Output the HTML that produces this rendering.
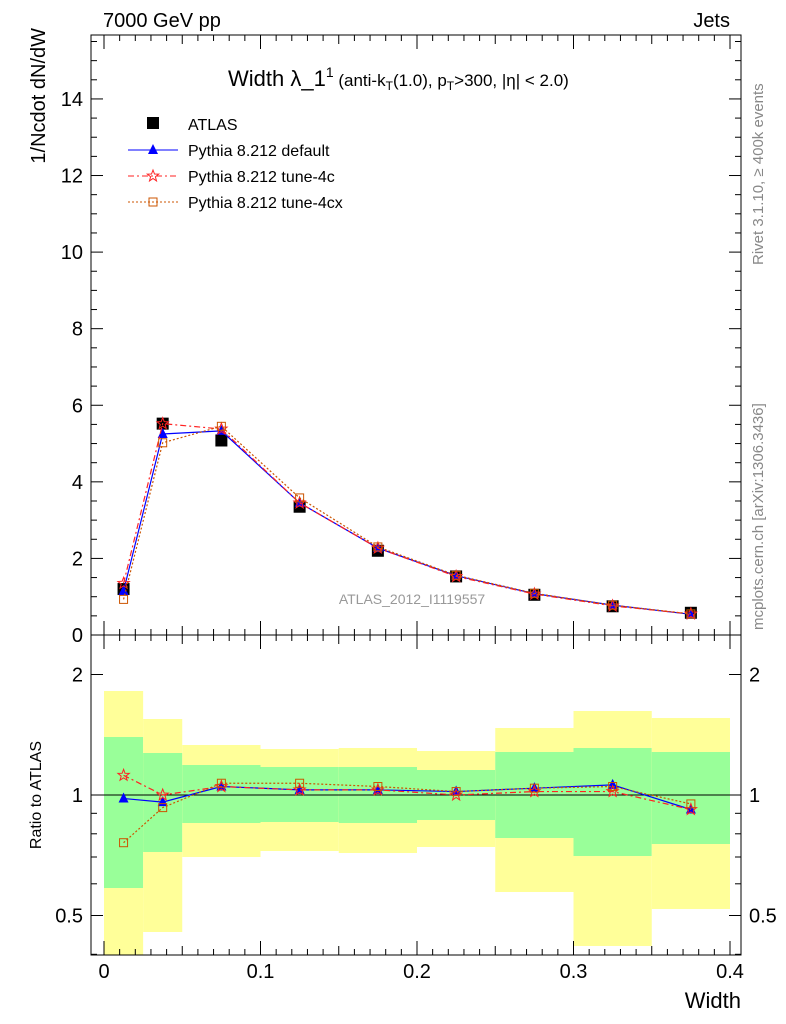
<!DOCTYPE html>
<html><head><meta charset="utf-8"><style>
body{margin:0;background:#fff;}
svg{display:block;font-family:"Liberation Sans",sans-serif;}
</style></head><body>
<svg id="s" width="786" height="1024" xmlns="http://www.w3.org/2000/svg"></svg>
<script>
const S=document.getElementById('s');let h='';
const X=w=>104+1565*w, Y=v=>635-38.29*v, R=r=>795-120.5*Math.log2(r);
const L=91,Rt=741;
const bins=[0,0.025,0.05,0.1,0.15,0.2,0.25,0.3,0.35,0.4];
const band=[[737,888,691,955],[753,852,719,932],[765,823,745,857],[767,822,749,851],[767,823,748,853],[770,820,751,847],[752,838,728,892],[748,856,711,946],[752,844,718,909]];
for(let i=0;i<9;i++){const a=X(bins[i]),b=X(bins[i+1]);const d=band[i];
h+=`<rect x="${a}" y="${d[2]}" width="${b-a}" height="${d[3]-d[2]}" fill="#ffff99"/>`;
h+=`<rect x="${a}" y="${d[0]}" width="${b-a}" height="${d[1]-d[0]}" fill="#99ff99"/>`;}
h+=`<line x1="${L}" x2="${Rt}" y1="795" y2="795" stroke="#000"/>`;
h+=`<rect x="${L}" y="35" width="${Rt-L}" height="600" fill="none" stroke="#000"/>`;
h+=`<rect x="${L}" y="635" width="${Rt-L}" height="320" fill="none" stroke="#000"/>`;
for(let v=0;v<=15.6;v+=0.5){const y=Y(v);if(y<35)break;const big=Math.abs(v%2)<1e-9;const l=big?12:6;
h+=`<line x1="${L}" x2="${L+l}" y1="${y}" y2="${y}" stroke="#000"/><line x1="${Rt}" x2="${Rt-l}" y1="${y}" y2="${y}" stroke="#000"/>`;
if(big)h+=`<text x="${L-8}" y="${y+7}" font-size="20" text-anchor="end">${v}</text>`;}
for(let k=0;k<=41;k++){const w=k*0.01;const x=X(w);if(x>Rt)break;const big=k%10==0;const mid=k%5==0;const l=big?14:(mid?9:6);
for(const yb of [635,955]){h+=`<line x1="${x}" x2="${x}" y1="${yb}" y2="${yb-l}" stroke="#000"/>`;}
h+=`<line x1="${x}" x2="${x}" y1="35" y2="${35+l}" stroke="#000"/><line x1="${x}" x2="${x}" y1="635" y2="${635+l}" stroke="#000"/>`;
if(big)h+=`<text x="${x}" y="978" font-size="20" text-anchor="middle">${k==0?'0':(k/100).toFixed(1)}</text>`;}
for(const r of [0.4,0.5,0.6,0.7,0.8,0.9,1,2]){const y=R(r);const big=(r==0.5||r==1||r==2);const l=big?12:6;
h+=`<line x1="${L}" x2="${L+l}" y1="${y}" y2="${y}" stroke="#000"/><line x1="${Rt}" x2="${Rt-l}" y1="${y}" y2="${y}" stroke="#000"/>`;
if(big){h+=`<text x="${L-8}" y="${y+7}" font-size="20" text-anchor="end">${r}</text><text x="${Rt+8}" y="${y+7}" font-size="20">${r}</text>`;}}
const xs=[0.0125,0.0375,0.075,0.125,0.175,0.225,0.275,0.325,0.375];
const atl=[1.2,5.52,5.08,3.35,2.2,1.53,1.05,0.75,0.58];
const def=[1.15,5.25,5.33,3.45,2.27,1.55,1.08,0.78,0.54];
const c4=[1.35,5.52,5.38,3.45,2.27,1.53,1.07,0.76,0.55];
const cx=[0.93,5.02,5.45,3.58,2.3,1.56,1.09,0.78,0.55];
const rd=[0.98,0.96,1.05,1.03,1.03,1.02,1.04,1.06,0.92];
const r4=[1.12,1.0,1.05,1.03,1.03,1.0,1.02,1.02,0.92];
const rx=[0.76,0.93,1.07,1.07,1.05,1.02,1.04,1.05,0.95];
function star(x,y,c){let p=[];for(let i=0;i<10;i++){const a=-Math.PI/2+i*Math.PI/5,r=i%2?2.5:6;p.push((x+r*Math.cos(a)).toFixed(1)+','+(y+r*Math.sin(a)).toFixed(1));}return `<polygon points="${p.join(' ')}" fill="none" stroke="${c}"/>`;}
function tri(x,y){return `<polygon points="${x},${y-6} ${x-5},${y+4} ${x+5},${y+4}" fill="#0000ff"/>`;}
function sq(x,y){return `<rect x="${x-4}" y="${y-4}" width="8" height="8" fill="none" stroke="#cc5500"/>`;}
function series(vals,f,col,dash,mk){const pts=xs.map((w,i)=>[X(w),f(vals[i])]);
h+=`<polyline points="${pts.map(p=>p.join(',')).join(' ')}" fill="none" stroke="${col}" stroke-width="1.2" ${dash?`stroke-dasharray="${dash}"`:''}/>`;
pts.forEach(p=>h+=mk(p[0],p[1]));}
xs.forEach((w,i)=>h+=`<rect x="${X(w)-6}" y="${Y(atl[i])-6}" width="12" height="12" fill="#000"/>`);
series(def,Y,'#0000ff','',tri);
series(c4,Y,'#ff2222','6,3,2,3',(x,y)=>star(x,y,'#ff2222'));
series(cx,Y,'#cc5500','2,2',sq);
series(rd,R,'#0000ff','',tri);
series(r4,R,'#ff2222','6,3,2,3',(x,y)=>star(x,y,'#ff2222'));
series(rx,R,'#cc5500','2,2',sq);
h+=`<rect x="147" y="117" width="12" height="12" fill="#000"/><text x="188" y="130" font-size="16">ATLAS</text>`;
h+=`<line x1="128" x2="178" y1="150" y2="150" stroke="#0000ff"/>${tri(153,150)}<text x="188" y="156" font-size="16">Pythia 8.212 default</text>`;
h+=`<line x1="128" x2="178" y1="176" y2="176" stroke="#ff2222" stroke-dasharray="6,3,2,3"/>${star(153,176,'#ff2222')}<text x="188" y="182" font-size="16">Pythia 8.212 tune-4c</text>`;
h+=`<line x1="128" x2="178" y1="202" y2="202" stroke="#cc5500" stroke-dasharray="2,2"/>${sq(153,202)}<text x="188" y="208" font-size="16">Pythia 8.212 tune-4cx</text>`;
h+=`<text x="103" y="27" font-size="20">7000 GeV pp</text><text x="730" y="27" font-size="20" text-anchor="end">Jets</text>`;
h+=`<text x="228" y="86" font-size="22">Width λ_1<tspan font-size="14" dy="-9">1</tspan><tspan font-size="17" dy="9"> (anti-k</tspan><tspan font-size="12" dy="4">T</tspan><tspan font-size="17" dy="-4">(1.0), p</tspan><tspan font-size="12" dy="4">T</tspan><tspan font-size="17" dy="-4">&gt;300, |η| &lt; 2.0)</tspan></text>`;
h+=`<text x="412" y="604" font-size="14" fill="#999" text-anchor="middle">ATLAS_2012_I1119557</text>`;
h+=`<text transform="translate(45,28) rotate(-90)" font-size="20" text-anchor="end">1/Ncdot dN/dW</text>`;
h+=`<text transform="translate(41,795) rotate(-90)" font-size="16" text-anchor="middle">Ratio to ATLAS</text>`;
h+=`<text transform="translate(763,265) rotate(-90)" font-size="15" fill="#888">Rivet 3.1.10, ≥ 400k events</text>`;
h+=`<text transform="translate(763,630) rotate(-90)" font-size="15" fill="#888">mcplots.cern.ch [arXiv:1306.3436]</text>`;
h+=`<text x="741" y="1008" font-size="22" text-anchor="end">Width</text>`;
S.innerHTML=h;
</script>
</body></html>
